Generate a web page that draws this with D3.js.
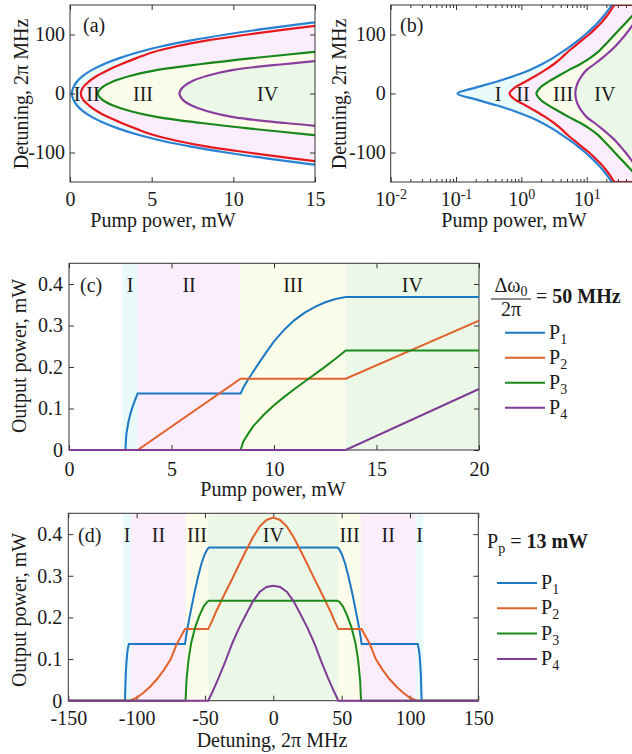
<!DOCTYPE html>
<html>
<head>
<meta charset="utf-8">
<script src="https://cdn.jsdelivr.net/npm/d3@7"></script>
<style>
  body { margin: 0; background: #fff; }
  svg { display: block; font-family: "Liberation Serif", "Times New Roman", Times, serif; }
  .tick text { font-family: "Liberation Serif", "Times New Roman", Times, serif; font-size: 20px; fill: #1a1a1a; }
  .tick line { stroke: #333; }
</style>
</head>
<body>
<script>
// ---------------- data ----------------
// threshold pump power (mW) of each regime vs detuning (2pi MHz) (a),(b)
const detGrid = [0, 10, 20, 30, 40, 50, 60, 70, 80, 90, 100, 110, 120, 130, 140, 150];
const thrI   = [0.105, 0.2, 0.417, 0.79, 1.35, 2.09, 3.02, 4.17, 5.62, 7.41, 9.55, 12.0, 14.8, 17.8, 20.9, 24.3];
const thrII  = [0.66, 0.79, 1.15, 1.66, 2.34, 3.16, 4.07, 5.07, 6.53, 8.41, 10.9, 13.6, 16.7, 19.9, 23.1, 26.5];
const thrIII = [1.7, 1.95, 2.6, 3.72, 5.37, 8.04, 11.2, 14.8, 18.2, 22.1, 26.9, 32.7, 39.8, 48.4, 58.9, 71.6];
const thrIV  = [6.7, 6.89, 7.41, 8.41, 10.0, 13.2, 17.2, 21.9, 27.5, 33.1, 39.4, 46.2, 53.7, 62.4, 71.6, 82.2];

const regionNames = ["I", "II", "III", "IV"];
const labelPumpA = [0.43, 1.41, 4.47, 12.1];
const labelPumpB = [0.44, 1.06, 4.35, 19];

// panel (c): output power (mW) vs pump power (mW), detuning 50 MHz
const regionEdgesC = [2.6, 3.35, 8.37, 13.5, 20];
const p1C = [[0, 0], [2.75, 0], [2.8, 0.039], [2.9, 0.068], [3.0, 0.088], [3.1, 0.104], [3.2, 0.118], [3.35, 0.136],
             [8.37, 0.136], [8.5, 0.15], [8.7, 0.167], [9, 0.19], [9.5, 0.227], [10, 0.262], [10.5, 0.29], [11, 0.313],
             [11.5, 0.331], [12, 0.345], [12.5, 0.356], [13, 0.364], [13.5, 0.369], [20, 0.369]];
const p2C = [[0, 0], [3.35, 0], [8.37, 0.172], [13.5, 0.172], [20, 0.312]];
const p3C = [[0, 0], [8.37, 0], [8.5, 0.02], [8.75, 0.04], [9, 0.058], [9.5, 0.085], [10, 0.108], [10.5, 0.128],
             [11, 0.147], [11.5, 0.165], [12, 0.183], [12.5, 0.201], [13, 0.22], [13.5, 0.24], [20, 0.24]];
const p4C = [[0, 0], [13.5, 0], [20, 0.147]];

// panel (d): output power (mW) vs detuning, pump 13 mW (negative half, the curves are symmetric)
const regionEdgesD = [-109.8, -104.1, -64, -47.6];
const p1D = [[-150, 0], [-108.5, 0], [-108, 0.06], [-107.5, 0.09], [-107, 0.11], [-106.5, 0.124], [-105.7, 0.136],
             [-64.6, 0.136], [-63.8, 0.155], [-62.5, 0.18], [-60, 0.222], [-57.5, 0.262], [-55, 0.298],
             [-52.5, 0.33], [-50, 0.353], [-48, 0.365], [-46.8, 0.368], [0, 0.368]];
const p2D = [[-150, 0], [-105, 0], [-100, 0.007], [-95, 0.019], [-90, 0.034], [-85, 0.052], [-80, 0.074], [-75, 0.1],
             [-70.7, 0.136], [-67, 0.158], [-64.6, 0.172], [-47.6, 0.172], [-45, 0.19], [-42, 0.213], [-38, 0.24],
             [-34, 0.267], [-30, 0.293], [-25, 0.327], [-20, 0.36], [-15, 0.392], [-10, 0.418], [-5, 0.434], [0, 0.44]];
const p3D = [[-150, 0], [-64.2, 0], [-63.5, 0.05], [-62, 0.1], [-60, 0.14], [-57, 0.178], [-54, 0.205],
             [-51, 0.226], [-48.5, 0.237], [-47, 0.24], [0, 0.24]];
const p4D = [[-150, 0], [-47.6, 0], [-44, 0.025], [-40, 0.055], [-35, 0.095], [-30, 0.138], [-25, 0.175],
             [-20, 0.207], [-15, 0.238], [-10, 0.261], [-5, 0.273], [0, 0.276]];

const seriesSub = ["1", "2", "3", "4"];

// ---------------- styles ----------------
const regionFill = ["#e9fafb", "#fbedfb", "#fcfcea", "#ebf8e7"];
const boundaryColor = ["#2a80d2", "#e8161d", "#17871b", "#8b3c9f"];
const seriesColor = ["#1b78c4", "#e0612b", "#1a8a1a", "#7f3b96"];

const W = 632, H = 754;
const svg = d3.select("body").append("svg").attr("width", W).attr("height", H);

function text(x, y, s, size, anchor) {
  return svg.append("text").attr("x", x).attr("y", y).attr("font-size", size)
    .attr("text-anchor", anchor || "middle").attr("fill", "#1a1a1a").text(s);
}
function yTitle(x, y, s) {
  svg.append("text").attr("transform", `translate(${x},${y}) rotate(-90)`).attr("dy", "0.35em")
    .attr("text-anchor", "middle").attr("font-size", 20).attr("fill", "#1a1a1a").text(s);
}
function clip(id, x, y) {
  svg.append("clipPath").attr("id", id).append("rect")
    .attr("x", x.range()[0]).attr("y", y.range()[1])
    .attr("width", x.range()[1] - x.range()[0]).attr("height", y.range()[0] - y.range()[1]);
}
function clean(g) {
  g.attr("font-size", null).attr("font-family", null);
  g.select(".domain").remove();
}
function frame(x, y, xt, yt, xPad, yPad, xFmt, yFmt) {
  const [x0, x1] = x.range(), [y0, y1] = y.range();
  const g = svg.append("g");
  g.append("g").attr("class", "xbot").attr("transform", `translate(0,${y0})`)
    .call(d3.axisBottom(x).tickValues(xt).tickSizeInner(-5).tickSizeOuter(0).tickPadding(xPad).tickFormat(xFmt)).call(clean);
  g.append("g").attr("transform", `translate(0,${y1})`)
    .call(d3.axisTop(x).tickValues(xt).tickSizeInner(-5).tickSizeOuter(0).tickFormat("")).call(clean);
  g.append("g").attr("transform", `translate(${x0},0)`)
    .call(d3.axisLeft(y).tickValues(yt).tickSizeInner(-5).tickSizeOuter(0).tickPadding(yPad).tickFormat(yFmt)).call(clean);
  g.append("g").attr("transform", `translate(${x1},0)`)
    .call(d3.axisRight(y).tickValues(yt).tickSizeInner(-5).tickSizeOuter(0).tickFormat("")).call(clean);
  g.append("rect").attr("x", x0).attr("y", y1).attr("width", x1 - x0).attr("height", y0 - y1)
    .attr("fill", "none").attr("stroke", "#333").attr("stroke-width", 1);
  return g;
}

// ---------------- panels (a) and (b): regime boundaries ----------------
function boundaryPts(thr) {
  // from +150 down to -150
  const upper = detGrid.map((d, i) => [thr[i], d]).reverse();
  const lower = detGrid.slice(1).map((d, i) => [thr[i + 1], -d]);
  return upper.concat(lower);
}
const boundaries = [thrI, thrII, thrIII, thrIV].map(boundaryPts);

const yA = d3.scaleLinear().domain([-150, 150]).range([182, 5]);
const xA = d3.scaleLinear().domain([0, 15]).range([70, 315]);
const xB = d3.scaleLog().domain([0.01, 100]).range([390.7, 652]);

function regimePanel(x, id) {
  clip(id, x, yA);
  const line = d3.line().x(d => x(d[0])).y(d => yA(d[1])).curve(d3.curveCatmullRom.alpha(0.5));
  const shape = pts => line(pts) + `L${x(1000)},${yA(-150)}L${x(1000)},${yA(150)}Z`;
  const g = svg.append("g").attr("clip-path", `url(#${id})`);
  boundaries.forEach((pts, i) => {
    g.append("path").attr("d", shape(pts)).attr("fill", regionFill[i]).attr("stroke", "none");
  });
  return { g, shape };
}

// (a)
const pa = regimePanel(xA, "clipA");
frame(xA, yA, [0, 5, 10, 15], [-100, 0, 100], 10, 5, d => String(d), d => String(d));
boundaries.forEach((pts, i) => {
  pa.g.append("path").attr("d", pa.shape(pts)).attr("fill", "none")
    .attr("stroke", boundaryColor[i]).attr("stroke-width", 2.2);
});
regionNames.forEach((n, i) => text(xA(labelPumpA[i]), yA(0) + 7, n, 20));
text(83, 32, "(a)", 20, "start");
yTitle(21, 94, "Detuning, 2\u03c0 MHz");
text(163, 227, "Pump power, mW", 20);

// (b)
const pb = regimePanel(xB, "clipB");
const gB = frame(xB, yA, [0.01, 0.1, 1, 10, 100], [-100, 0, 100], 10, 5, () => "", d => String(d));
gB.select(".xbot").selectAll(".tick").filter(d => d < 50).select("text").each(function (d) {
  const t = d3.select(this);
  t.text("10");
  t.append("tspan").attr("dy", "-0.55em").attr("font-size", 14).text(String(Math.round(Math.log10(d))));
});
gB.select(".xbot").selectAll(".tick").filter(d => d > 50).select("text").remove();
const minorB = [];
[0.01, 0.1, 1, 10].forEach(dec => [2, 3, 4, 5, 6, 7, 8, 9].forEach(m => minorB.push(dec * m)));
gB.append("g").attr("transform", `translate(0,${yA.range()[0]})`)
  .call(d3.axisBottom(xB).tickValues(minorB).tickSizeInner(-3).tickSizeOuter(0).tickFormat("")).call(clean);
gB.append("g").attr("transform", `translate(0,${yA.range()[1]})`)
  .call(d3.axisTop(xB).tickValues(minorB).tickSizeInner(-3).tickSizeOuter(0).tickFormat("")).call(clean);
boundaries.forEach((pts, i) => {
  pb.g.append("path").attr("d", pb.shape(pts)).attr("fill", "none")
    .attr("stroke", boundaryColor[i]).attr("stroke-width", 2.2);
});
regionNames.forEach((n, i) => text(xB(labelPumpB[i]), yA(0) + 7, n, 20));
text(400, 32, "(b)", 20, "start");
yTitle(339, 94, "Detuning, 2\u03c0 MHz");
text(514, 227, "Pump power, mW", 20);

// ---------------- panel (c) ----------------
const xC = d3.scaleLinear().domain([0, 20]).range([69, 479]);
const yC = d3.scaleLinear().domain([0, 0.45]).range([450, 263.3]);
clip("clipC", xC, yC);
const gC = svg.append("g").attr("clip-path", "url(#clipC)");
regionEdgesC.slice(0, 4).forEach((e, i) => {
  gC.append("rect").attr("x", xC(e)).attr("y", yC(0.45))
    .attr("width", xC(regionEdgesC[i + 1]) - xC(e)).attr("height", yC(0) - yC(0.45)).attr("fill", regionFill[i]);
});
frame(xC, yC, [0, 5, 10, 15, 20], [0, 0.1, 0.2, 0.3, 0.4], 12, 6, d => String(d), d => String(d));
const lineC = d3.line().x(d => xC(d[0])).y(d => yC(d[1]));
[p1C, p2C, p3C, p4C].forEach((s, i) => {
  svg.append("path").attr("d", lineC(s)).attr("fill", "none")
    .attr("stroke", seriesColor[i]).attr("stroke-width", 2);
});
regionNames.forEach((n, i) => text(xC((regionEdgesC[i] + regionEdgesC[i + 1]) / 2), 292, n, 20));
text(80, 292, "(c)", 20, "start");
yTitle(19, 356, "Output power, mW");
text(273, 496, "Pump power, mW", 20);

// legend (c)
const fr = svg.append("text").attr("x", 511).attr("y", 292).attr("text-anchor", "middle").attr("font-size", 20).attr("fill", "#1a1a1a");
fr.append("tspan").text("\u0394\u03c9");
fr.append("tspan").attr("font-size", 14).attr("dy", 4).text("0");
svg.append("line").attr("x1", 491).attr("x2", 531).attr("y1", 299).attr("y2", 299).attr("stroke", "#1a1a1a").attr("stroke-width", 1);
text(511, 316, "2\u03c0", 20);
const eqC = svg.append("text").attr("x", 536).attr("y", 303).attr("font-size", 20).attr("fill", "#1a1a1a");
eqC.append("tspan").text("= ");
eqC.append("tspan").attr("font-weight", "bold").text("50 MHz");

function legend(x0, y0, step) {
  seriesSub.forEach((s, i) => {
    const y = y0 + i * step;
    svg.append("line").attr("x1", x0).attr("x2", x0 + 40).attr("y1", y).attr("y2", y)
      .attr("stroke", seriesColor[i]).attr("stroke-width", 2);
    const t = svg.append("text").attr("x", x0 + 44).attr("y", y + 6).attr("font-size", 20).attr("fill", "#1a1a1a");
    t.append("tspan").text("P");
    t.append("tspan").attr("font-size", 14).attr("dy", 5).text(s);
  });
}
legend(505, 332.7, 25);

// ---------------- panel (d) ----------------
const xD = d3.scaleLinear().domain([-150, 150]).range([68.3, 478.3]);
const yD = d3.scaleLinear().domain([0, 0.45]).range([700.7, 513.3]);
clip("clipD", xD, yD);
const mirror = s => s.concat(s.slice(0, -1).reverse().map(d => [-d[0], d[1]]));
const edgesD = regionEdgesD.concat(regionEdgesD.slice().reverse().map(e => -e));
const regionIdxD = [0, 1, 2, 3, 2, 1, 0];
const gD = svg.append("g").attr("clip-path", "url(#clipD)");
regionIdxD.forEach((r, i) => {
  gD.append("rect").attr("x", xD(edgesD[i])).attr("y", yD(0.45))
    .attr("width", xD(edgesD[i + 1]) - xD(edgesD[i])).attr("height", yD(0) - yD(0.45)).attr("fill", regionFill[r]);
});
frame(xD, yD, [-150, -100, -50, 0, 50, 100, 150], [0, 0.1, 0.2, 0.3, 0.4], 10, 6, d => String(d), d => String(d));
const lineD = d3.line().x(d => xD(d[0])).y(d => yD(d[1]));
[p1D, p2D, p3D, p4D].forEach((s, i) => {
  svg.append("path").attr("d", lineD(mirror(s))).attr("fill", "none")
    .attr("stroke", seriesColor[i]).attr("stroke-width", 2);
});
regionIdxD.forEach((r, i) => text(xD((edgesD[i] + edgesD[i + 1]) / 2), 542, regionNames[r], 20));
text(78, 542, "(d)", 20, "start");
yTitle(19, 610, "Output power, mW");
text(272, 747, "Detuning, 2\u03c0 MHz", 20);

// legend (d)
const eqD = svg.append("text").attr("x", 487).attr("y", 548).attr("font-size", 20).attr("fill", "#1a1a1a");
eqD.append("tspan").text("P");
eqD.append("tspan").attr("font-size", 14).attr("dy", 5).text("p");
eqD.append("tspan").attr("dy", -5).text(" = ");
eqD.append("tspan").attr("font-weight", "bold").text("13 mW");
legend(497, 583, 25.3);
</script>
</body>
</html>
